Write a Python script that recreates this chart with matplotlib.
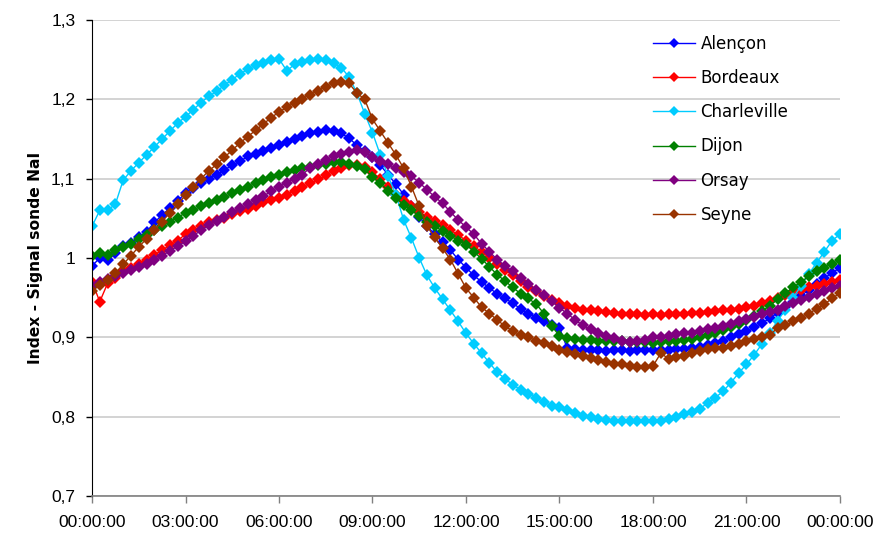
import numpy as np
import matplotlib
matplotlib.use("Agg")
import matplotlib.pyplot as plt
from matplotlib import font_manager

# readings every 15 minutes, 00:00 -> 24:00 (97 points)
step_h = 0.25

alencon = [0.990, 1.000, 0.997, 1.006,
           1.015, 1.019, 1.026, 1.033,
           1.045, 1.054, 1.063, 1.072,
           1.082, 1.088, 1.094, 1.100,
           1.105, 1.111, 1.117, 1.122,
           1.128, 1.131, 1.135, 1.139,
           1.143, 1.146, 1.150, 1.154,
           1.157, 1.159, 1.161, 1.160,
           1.157, 1.151, 1.142, 1.135,
           1.127, 1.117, 1.105, 1.093,
           1.080, 1.066, 1.052, 1.040,
           1.030, 1.020, 1.010, 0.998,
           0.988, 0.978, 0.970, 0.962,
           0.955, 0.949, 0.943, 0.936,
           0.930, 0.925, 0.920, 0.916,
           0.912, 0.886, 0.885, 0.884,
           0.884, 0.884, 0.883, 0.884,
           0.884, 0.883, 0.884, 0.884,
           0.884, 0.884, 0.884, 0.885,
           0.885, 0.886, 0.888, 0.890,
           0.893, 0.896, 0.900, 0.904,
           0.908, 0.913, 0.918, 0.924,
           0.931, 0.938, 0.945, 0.952,
           0.960, 0.967, 0.975, 0.981,
           0.988]

bordeaux = [0.970, 0.945, 0.968, 0.975,
            0.983, 0.988, 0.993, 0.998,
            1.004, 1.010, 1.016, 1.022,
            1.030, 1.035, 1.040, 1.045,
            1.048, 1.051, 1.055, 1.059,
            1.062, 1.066, 1.070, 1.073,
            1.076, 1.080, 1.085, 1.090,
            1.094, 1.099, 1.104, 1.110,
            1.114, 1.117, 1.117, 1.115,
            1.108, 1.100, 1.090, 1.080,
            1.072, 1.065, 1.058, 1.052,
            1.047, 1.041, 1.035, 1.029,
            1.022, 1.015, 1.008, 1.000,
            0.993, 0.985, 0.978, 0.971,
            0.964, 0.958, 0.952, 0.947,
            0.943, 0.940, 0.937, 0.935,
            0.934, 0.933, 0.932, 0.931,
            0.930, 0.929, 0.929, 0.928,
            0.930, 0.928, 0.929, 0.930,
            0.930, 0.931, 0.931, 0.932,
            0.933, 0.934, 0.935, 0.936,
            0.938, 0.940, 0.943, 0.946,
            0.949, 0.953, 0.957, 0.960,
            0.963, 0.965, 0.967, 0.970,
            0.972]

charleville = [1.040, 1.060, 1.060, 1.068,
               1.098, 1.110, 1.120, 1.130,
               1.140, 1.150, 1.160, 1.170,
               1.178, 1.187, 1.196, 1.204,
               1.210, 1.218, 1.225, 1.232,
               1.238, 1.243, 1.246, 1.249,
               1.251, 1.236, 1.244, 1.247,
               1.250, 1.251, 1.250, 1.246,
               1.240, 1.228, 1.208, 1.182,
               1.158, 1.130, 1.103, 1.080,
               1.048, 1.025, 1.000, 0.978,
               0.962, 0.948, 0.934, 0.920,
               0.905, 0.892, 0.880, 0.868,
               0.856, 0.848, 0.840, 0.834,
               0.829, 0.824, 0.818, 0.814,
               0.812, 0.808, 0.804, 0.801,
               0.799, 0.797, 0.796, 0.795,
               0.795, 0.794, 0.794, 0.795,
               0.794, 0.795, 0.797, 0.799,
               0.803, 0.806, 0.810, 0.817,
               0.824, 0.832, 0.843, 0.855,
               0.866, 0.878, 0.892, 0.906,
               0.921, 0.935, 0.950, 0.965,
               0.980, 0.994, 1.008, 1.022,
               1.030]

dijon = [1.003, 1.006, 1.004, 1.010,
         1.014, 1.018, 1.024, 1.029,
         1.035, 1.040, 1.046, 1.051,
         1.057, 1.061, 1.065, 1.069,
         1.073, 1.077, 1.082, 1.086,
         1.090, 1.094, 1.098, 1.102,
         1.105, 1.108, 1.111, 1.114,
         1.115, 1.117, 1.119, 1.121,
         1.121, 1.119, 1.116, 1.112,
         1.102, 1.094, 1.085, 1.076,
         1.067, 1.060, 1.053, 1.046,
         1.040, 1.034, 1.028, 1.022,
         1.017, 1.008, 0.999, 0.989,
         0.979, 0.971, 0.963, 0.955,
         0.949, 0.942, 0.930, 0.914,
         0.902, 0.899, 0.898, 0.897,
         0.897, 0.896, 0.896, 0.895,
         0.895, 0.894, 0.894, 0.894,
         0.893, 0.894, 0.895, 0.896,
         0.897, 0.898, 0.900, 0.903,
         0.906, 0.909, 0.913, 0.917,
         0.922, 0.927, 0.933, 0.940,
         0.948, 0.956, 0.963, 0.970,
         0.977, 0.983, 0.988, 0.993,
         0.997]

orsay = [0.965, 0.970, 0.973, 0.977,
         0.981, 0.985, 0.989, 0.993,
         0.997, 1.003, 1.009, 1.015,
         1.021, 1.028, 1.035, 1.041,
         1.047, 1.052, 1.058, 1.063,
         1.068, 1.073, 1.078, 1.084,
         1.090, 1.095, 1.100, 1.105,
         1.114, 1.119, 1.124, 1.128,
         1.131, 1.134, 1.136, 1.133,
         1.127, 1.122, 1.118, 1.113,
         1.108, 1.103, 1.095, 1.086,
         1.077, 1.069, 1.058, 1.048,
         1.039, 1.030, 1.018, 1.008,
         0.998, 0.990, 0.983, 0.975,
         0.967, 0.960, 0.953, 0.946,
         0.937, 0.930, 0.922, 0.915,
         0.910, 0.906, 0.902, 0.899,
         0.896, 0.894, 0.895, 0.897,
         0.900, 0.901, 0.902, 0.904,
         0.905, 0.906, 0.908, 0.910,
         0.912, 0.914, 0.917, 0.920,
         0.923, 0.926, 0.929, 0.932,
         0.935, 0.939, 0.943, 0.947,
         0.951, 0.955, 0.959, 0.962,
         0.965]

seyne = [0.958, 0.966, 0.972, 0.981,
         0.992, 1.003, 1.014, 1.024,
         1.035, 1.046, 1.057, 1.068,
         1.079, 1.089, 1.100, 1.110,
         1.118, 1.127, 1.136, 1.145,
         1.153, 1.161, 1.169, 1.177,
         1.184, 1.190, 1.196, 1.201,
         1.206, 1.211, 1.216, 1.220,
         1.222, 1.220, 1.208, 1.200,
         1.175, 1.160, 1.145, 1.130,
         1.113, 1.090, 1.065, 1.040,
         1.026, 1.012, 0.998, 0.980,
         0.962, 0.950, 0.938, 0.930,
         0.922, 0.914, 0.908, 0.903,
         0.900, 0.896, 0.893, 0.889,
         0.884, 0.881, 0.879, 0.877,
         0.874, 0.871, 0.869, 0.867,
         0.866, 0.864, 0.862, 0.863,
         0.864, 0.880, 0.873, 0.875,
         0.877, 0.880, 0.883, 0.885,
         0.886, 0.887, 0.889, 0.891,
         0.895, 0.898, 0.900, 0.903,
         0.912, 0.915, 0.920, 0.924,
         0.930, 0.936, 0.942, 0.949,
         0.956]

series_names = ["Alençon", "Bordeaux", "Charleville", "Dijon", "Orsay", "Seyne"]
series_values = [alencon, bordeaux, charleville, dijon, orsay, seyne]
series_colors = ["#0000ff", "#ff0000", "#00ccff", "#008000", "#800080", "#993300"]

x_ticks = [0, 3, 6, 9, 12, 15, 18, 21, 24]
x_ticklabels = ["00:00:00", "03:00:00", "06:00:00", "09:00:00", "12:00:00",
                "15:00:00", "18:00:00", "21:00:00", "00:00:00"]
y_ticks = [0.7, 0.8, 0.9, 1.0, 1.1, 1.2, 1.3]
y_ticklabels = ["0,7", "0,8", "0,9", "1", "1,1", "1,2", "1,3"]

# pick a narrow font for tick labels if available
names = {f.name for f in font_manager.fontManager.ttflist}
tick_font = "Liberation Sans Narrow" if "Liberation Sans Narrow" in names else "Liberation Sans"

fig = plt.figure(figsize=(8.78, 5.40), dpi=100)
ax = fig.add_axes([92 / 878, 1 - 496 / 540, 748 / 878, 476 / 540])

for name, vals, col in zip(series_names, series_values, series_colors):
    hours = np.arange(len(vals)) * step_h
    ax.plot(hours, vals, color=col, linewidth=1.0, marker="D", markersize=6.4,
            markeredgewidth=0, label=name)

ax.set_xlim(0, 24)
ax.set_ylim(0.7, 1.3)
ax.set_xticks(x_ticks)
ax.set_xticklabels(x_ticklabels, fontsize=12.5, family=tick_font)
ax.set_yticks(y_ticks)
ax.set_yticklabels(y_ticklabels, fontsize=12.5, family=tick_font)
ax.tick_params(axis="x", direction="out", length=5, width=1, color="#808080", pad=9)
ax.tick_params(axis="y", direction="out", length=4, width=1, color="black", pad=8)

ax.yaxis.grid(True, color="#cccccc", linewidth=1.2)
ax.set_axisbelow(True)
for sp in ["top", "right"]:
    ax.spines[sp].set_visible(False)
ax.spines["left"].set_color("black")
ax.spines["bottom"].set_color("#808080")
ax.spines["bottom"].set_linewidth(1.2)

ax.set_ylabel("Index - Signal sonde NaI", fontsize=11.2, fontweight="bold",
              family="DejaVu Sans", labelpad=6)

leg = ax.legend(loc="upper left", bbox_to_anchor=(0.73, 1.0), frameon=False,
                prop={"family": "DejaVu Sans", "size": 12}, handlelength=2.5,
                labelspacing=0.97, handletextpad=0.35)
for h in leg.legend_handles:
    h.set_markersize(5.5)

fig.savefig("out.png", dpi=100)
